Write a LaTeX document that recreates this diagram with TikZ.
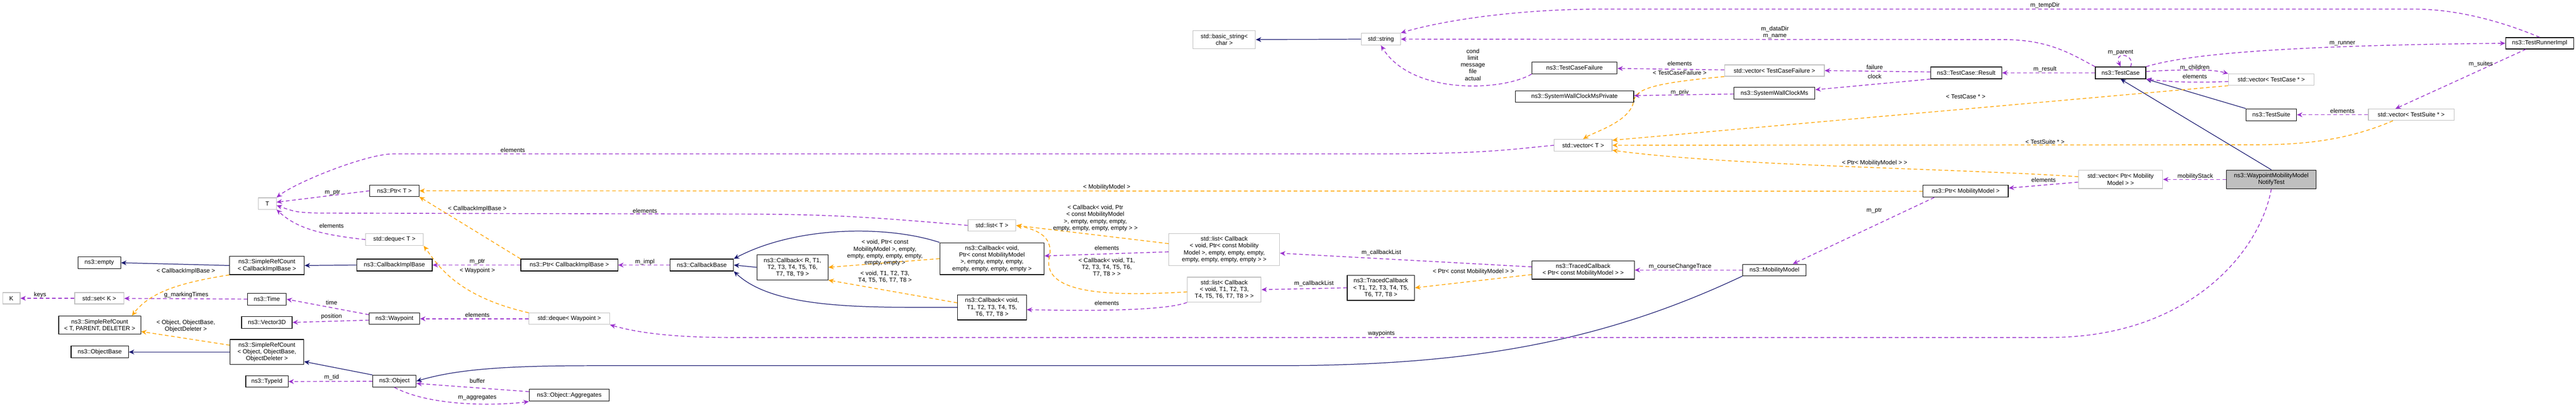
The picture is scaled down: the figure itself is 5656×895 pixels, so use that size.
\documentclass[tikz,border=0pt]{standalone}
\usepackage{fontspec}
\setmainfont{Liberation Sans}
\usetikzlibrary{arrows.meta,calc}

\definecolor{inhcol}{HTML}{191970}
\definecolor{usecol}{HTML}{9A32CD}
\definecolor{tplcol}{HTML}{FFA500}
\definecolor{extcol}{HTML}{BFBFBF}

\tikzset{
  cls/.style={draw=black, line width=0.35pt, fill=white, inner sep=0.5pt, align=center, font=\fontsize{3.3}{3.75}\selectfont},
  ext/.style={cls, draw=extcol},
  mainbox/.style={cls, fill=extcol},
  sz/.style 2 args={minimum width=#1*0.25pt, minimum height=#2*0.25pt},
  lbl/.style={inner sep=0pt, align=center, font=\fontsize{3.3}{3.75}\selectfont},
  inh/.style={draw=inhcol, line width=0.35pt, -{Stealth[length=3pt,width=2.6pt]}},
  usedep/.style={draw=usecol, line width=0.4pt, dash pattern=on 2pt off 1.4pt, -{Stealth[length=3pt,width=2.6pt]}},
  tpldep/.style={draw=tplcol, line width=0.4pt, dash pattern=on 2pt off 1.4pt, -{Stealth[length=3pt,width=2.6pt]}},
}

\begin{document}
\begin{tikzpicture}[x=0.25pt,y=0.25pt,yscale=-1]
\useasboundingbox (0,0) rectangle (5656,895);

% left part
\node[ext, sz={39}{25}] (T) at (587,447) {T};
\node[cls, sz={94}{26}] (empty) at (218,577) {ns3::empty};
\node[cls, sz={164}{40}] (srcCib) at (586,583) {ns3::SimpleRefCount\\< CallbackImplBase >};
\node[ext, sz={38}{25}] (K) at (25,655) {K};
\node[ext, sz={108}{25}] (setK) at (218,655) {std::set< K >};
\node[cls, sz={85}{26}] (time) at (586,657) {ns3::Time};
\node[cls, sz={180}{40}] (srcTpd) at (219,714) {ns3::SimpleRefCount\\< T, PARENT, DELETER >};
\node[cls, sz={111}{26}] (vec3d) at (586,708) {ns3::Vector3D};
\node[cls, sz={126}{26}] (objBase) at (219,773) {ns3::ObjectBase};
\node[cls, sz={162}{55}] (srcObj) at (586,773) {ns3::SimpleRefCount\\< Object, ObjectBase,\\ObjectDeleter >};
\node[cls, sz={93}{25}] (typeId) at (586,838) {ns3::TypeId};
\node[cls, sz={108}{25}] (ptrT) at (866,419) {ns3::Ptr< T >};
\node[ext, sz={127}{26}] (dequeT) at (866,526) {std::deque< T >};
\node[cls, sz={166}{26}] (cib) at (866,582) {ns3::CallbackImplBase};
\node[cls, sz={213}{26}] (ptrCib) at (1250,582) {ns3::Ptr< CallbackImplBase >};
\node[cls, sz={139}{26}] (cbBase) at (1541,582) {ns3::CallbackBase};
\node[cls, sz={111}{25}] (waypoint) at (866,700) {ns3::Waypoint};
\node[ext, sz={177}{25}] (dequeWp) at (1250,700) {std::deque< Waypoint >};
\node[cls, sz={95}{26}] (object) at (866,837) {ns3::Object};
\node[cls, sz={176}{26}] (aggr) at (1250,868) {ns3::Object::Aggregates};

% callbacks
\node[cls, sz={156}{55}] (cbR) at (1740,587) {ns3::Callback< R, T1,\\T2, T3, T4, T5, T6,\\T7, T8, T9 >};
\node[cls, sz={229}{70}] (cbPtr) at (2178,568) {ns3::Callback< void,\\Ptr< const MobilityModel\\>, empty, empty, empty,\\empty, empty, empty, empty >};
\node[cls, sz={151}{55}] (cbT) at (2178,675) {ns3::Callback< void,\\T1, T2, T3, T4, T5,\\T6, T7, T8 >};
\node[ext, sz={105}{25}] (listT) at (2178,495) {std::list< T >};
\node[ext, sz={243}{70}] (listCbPtr) at (2688,548) {std::list< Callback\\< void, Ptr< const Mobility\\Model >, empty, empty, empty,\\empty, empty, empty, empty > >};
\node[ext, sz={162}{55}] (listCbT) at (2688,636) {std::list< Callback\\< void, T1, T2, T3,\\T4, T5, T6, T7, T8 > >};
\node[cls, sz={148}{55}] (tcT) at (3032,632) {ns3::TracedCallback\\< T1, T2, T3, T4, T5,\\T6, T7, T8 >};
\node[cls, sz={225}{40}] (tcPtr) at (3476,593) {ns3::TracedCallback\\< Ptr< const MobilityModel > >};
\node[cls, sz={139}{25}] (mobModel) at (3896,593) {ns3::MobilityModel};
\node[cls, sz={187}{26}] (ptrMm) at (4316,420) {ns3::Ptr< MobilityModel >};

% test framework
\node[ext, sz={137}{40}] (basicStr) at (2688,87) {std::basic\_string<\\char >};
\node[ext, sz={86}{26}] (str) at (3032,86) {std::string};
\node[cls, sz={187}{26}] (tcFail) at (3457,149) {ns3::TestCaseFailure};
\node[ext, sz={219}{25}] (vecTcf) at (3896,155) {std::vector< TestCaseFailure >};
\node[cls, sz={156}{26}] (result) at (4317,160) {ns3::TestCase::Result};
\node[cls, sz={260}{25}] (swcmPriv) at (3457,212) {ns3::SystemWallClockMsPrivate};
\node[cls, sz={178}{26}] (swcm) at (3896,205) {ns3::SystemWallClockMs};
\node[ext, sz={127}{26}] (vecT) at (3476,319) {std::vector< T >};
\node[cls, sz={111}{26}] (testCase) at (4656,160) {ns3::TestCase};
\node[ext, sz={188}{25}] (vecTc) at (4987,175) {std::vector< TestCase * >};
\node[cls, sz={111}{26}] (testSuite) at (4987,252) {ns3::TestSuite};
\node[ext, sz={188}{25}] (vecTs) at (5294,252) {std::vector< TestSuite * >};
\node[ext, sz={185}{40}] (vecPtrMm) at (4656,394) {std::vector< Ptr< Mobility\\Model > >};
\node[mainbox, sz={197}{41}] (notify) at (4987,394) {ns3::WaypointMobilityModel\\NotifyTest};
\node[cls, sz={149}{25}] (runner) at (5576,95) {ns3::TestRunnerImpl};

% inheritance
\draw[inh] (srcCib.west) -- (empty.east);
\draw[inh] (cib.west) -- (srcCib.east);
\draw[inh] (srcObj.west) -- (objBase.east);
\draw[inh] (object.north west) -- (srcObj.east |- 0,794);
\draw[inh] (cbR.west) -- (cbBase.east);
\draw[inh] (cbPtr.north west) .. controls (1950,495) and (1750,495) .. (cbBase.north east);
\draw[inh] (cbT.west) .. controls (1900,675) and (1700,680) .. (cbBase.south east);
\draw[inh] (str.west) -- (basicStr.east);
\draw[inh] (mobModel.south west) .. controls (3500,760) and (3200,803) .. (2800,803) -- (1300,803) .. controls (1100,803) and (1000,812) .. (object.east);
\draw[inh] (testSuite.north west) -- (testCase.south east);
\draw[inh] (notify.north) -- (testCase.south);

% usage
\draw[usedep] (setK) -- (K); \node[lbl] (l1) at (88,648) {keys};
\draw[usedep] (time) -- (setK); \node[lbl] (l2) at (409,648) {g\_markingTimes};
\draw[usedep] (waypoint.west |- 0,691) -- (time.east); \node[lbl] (l3) at (728,664) {time};
\draw[usedep] (waypoint.west |- 0,703) -- (vec3d.east); \node[lbl] (l4) at (728,695) {position};
\draw[usedep] (object) -- (typeId); \node[lbl] (l5) at (728,828) {m\_tid};
\draw[usedep] (aggr.west |- 0,860) -- (object.east |- 0,842); \node[lbl] (l6) at (1048,836) {buffer};
\draw[usedep] (object.south) .. controls (950,895) and (1100,890) .. (aggr.south west); \node[lbl] (l7) at (1048,873) {m\_aggregates};
\draw[usedep] (dequeWp) -- (waypoint); \node[lbl] (l8) at (1048,692) {elements};
\draw[usedep] (ptrCib) -- (cib); \node[lbl] (l9) at (1048,575) {m\_ptr};
\draw[usedep] (cbBase) -- (ptrCib); \node[lbl] (l10) at (1416,575) {m\_impl};
\draw[usedep] (ptrT.west) -- (T.east |- 0,444); \node[lbl] (l11) at (730,423) {m\_ptr};
\draw[usedep] (dequeT.west) .. controls (700,515) and (650,500) .. (T.south east); \node[lbl] (l12) at (728,496) {elements};
\draw[usedep] (listT.west) .. controls (1900,475) and (1800,470) .. (1600,470) -- (700,468) .. controls (650,466) .. (T.east |- 0,451); \node[lbl] (l13) at (1416,463) {elements};
\draw[usedep] (vecT.west) .. controls (3300,330) and (3250,338) .. (3000,338) -- (860,338) .. controls (800,340) and (650,400) .. (T.north east); \node[lbl] (l14) at (1126,330) {elements};
\draw[usedep] (listCbPtr.west |- 0,553) -- (cbPtr.east |- 0,562); \node[lbl] (l15) at (2430,545) {elements};
\draw[usedep] (listCbT.south west) .. controls (2550,685) and (2350,682) .. (cbT.east |- 0,680); \node[lbl] (l16) at (2430,665) {elements};
\draw[usedep] (tcT.west) -- (listCbT.east); \node[lbl] (l17) at (2885,623) {m\_callbackList};
\draw[usedep] (tcPtr.west |- 0,586) -- (listCbPtr.east |- 0,556); \node[lbl] (l18) at (3033,555) {m\_callbackList};
\draw[usedep] (mobModel) -- (tcPtr); \node[lbl] (l19) at (3689,585) {m\_courseChangeTrace};
\draw[usedep] ($(ptrMm.south west)+(25,0)$) -- ($(mobModel.north east)+(-30,0)$); \node[lbl] (l20) at (4115,463) {m\_ptr};
\draw[usedep] (vecPtrMm.west |- 0,400) -- (ptrMm.east |- 0,413); \node[lbl] (l21) at (4487,395) {elements};
\draw[usedep] (notify) -- (vecPtrMm); \node[lbl] (l22) at (4820,387) {mobilityStack};
\draw[usedep] (notify.south) .. controls (4960,560) and (4800,741) .. (4500,741) -- (1600,741) .. controls (1450,741) and (1380,725) .. (dequeWp.south east); \node[lbl] (l23) at (3033,733) {waypoints};
\draw[usedep] (testCase) -- (result); \node[lbl] (l24) at (4490,152) {m\_result};
\draw[usedep] ($(testCase.north)+(22,0)$) .. controls (4690,120) and (4640,110) .. (testCase.north); \node[lbl] (l25) at (4656,115) {m\_parent};
\draw[usedep] (testCase.east |- 0,157) .. controls (4800,152) and (4860,152) .. (vecTc.north west); \node[lbl] (l26) at (4819,149) {m\_children};
\draw[usedep] (vecTc.west |- 0,179) .. controls (4820,182) and (4760,180) .. (testCase.south east); \node[lbl] (l27) at (4819,168) {elements};
\draw[usedep] (testCase.north east) .. controls (4800,120) and (5000,100) .. (runner.west); \node[lbl] (l28) at (5143,96) {m\_runner};
\draw[usedep] (testCase.north west) .. controls (4550,120) and (4500,87) .. (4400,87) -- (str.east); \node[lbl] (l29) at (3897,71) {m\_dataDir\\m\_name};
\draw[usedep] (runner.north) .. controls (5500,50) and (5400,20) .. (5300,20) -- (3500,20) .. controls (3300,22) and (3150,50) .. (str.north east); \node[lbl] (l30) at (4490,12) {m\_tempDir};
\draw[usedep] ($(runner.south)+(-30,0)$) -- ($(vecTs.north west)+(60,0)$); \node[lbl] (l31) at (5447,141) {m\_suites};
\draw[usedep] (vecTs) -- (testSuite); \node[lbl] (l32) at (5143,244) {elements};
\draw[usedep] (result.west |- 0,158) -- (vecTcf.east); \node[lbl] (l33) at (4116,147) {failure};
\draw[usedep] (result.south west) -- (swcm.east |- 0,197); \node[lbl] (l34) at (4116,168) {clock};
\draw[usedep] (vecTcf) -- (tcFail); \node[lbl] (l35) at (3688,140) {elements};
\draw[usedep] (swcm) -- (swcmPriv); \node[lbl] (l36) at (3688,203) {m\_priv};
\draw[usedep] (tcFail.south west) .. controls (3300,200) and (3100,210) .. (str.south); \node[lbl] (l37) at (3234,142) {cond\\limit\\message\\file\\actual};

% templates
\draw[tpldep] (srcCib.south west) .. controls (400,620) and (330,640) .. ($(srcTpd.north east)+(-20,0)$); \node[lbl] (l38) at (408,596) {< CallbackImplBase >};
\draw[tpldep] (srcObj.west |- 0,758) -- (srcTpd.east |- 0,728); \node[lbl] (l39) at (408,716) {< Object, ObjectBase,\\ObjectDeleter >};
\draw[tpldep] (ptrCib.north west) -- (ptrT.south east); \node[lbl] (l40) at (1048,459) {< CallbackImplBase >};
\draw[tpldep] (dequeWp.north west) .. controls (1000,650) and (960,580) .. (dequeT.south east); \node[lbl] (l41) at (1048,595) {< Waypoint >};
\draw[tpldep] (cbPtr.west) -- (cbR.east); \node[lbl] (l42) at (1943,555) {< void, Ptr< const\\MobilityModel >, empty,\\empty, empty, empty, empty,\\empty, empty >};
\draw[tpldep] (cbT.west |- 0,665) -- (cbR.south east); \node[lbl] (l43) at (1943,608) {< void, T1, T2, T3,\\T4, T5, T6, T7, T8 >};
\draw[tpldep] (listCbPtr.west |- 0,535) -- (listT.east); \node[lbl] (l44) at (2405,479) {< Callback< void, Ptr\\< const MobilityModel\\>, empty, empty, empty,\\empty, empty, empty, empty > >};
\draw[tpldep] (listCbT.west |- 0,641) .. controls (2450,650) and (2280,650) .. (2305,560) .. controls (2310,520) and (2280,505) .. (listT.east); \node[lbl] (l45) at (2430,587) {< Callback< void, T1,\\T2, T3, T4, T5, T6,\\T7, T8 > >};
\draw[tpldep] (tcPtr.west |- 0,603) -- (tcT.east); \node[lbl] (l46) at (3235,597) {< Ptr< const MobilityModel > >};
\draw[tpldep] (ptrMm) -- (ptrT); \node[lbl] (l47) at (2430,411) {< MobilityModel >};
\draw[tpldep] (vecTcf.south west) .. controls (3600,185) and (3590,200) .. (3585,230) .. controls (3570,270) and (3500,290) .. (vecT.north); \node[lbl] (l48) at (3688,160) {< TestCaseFailure >};
\draw[tpldep] (vecTc.south west) -- (vecT.east |- 0,308); \node[lbl] (l49) at (4316,212) {< TestCase * >};
\draw[tpldep] ($(vecTs.south)+(-40,0)$) .. controls (5150,310) and (5050,318) .. (4950,318) -- (vecT.east); \node[lbl] (l50) at (4490,311) {< TestSuite * >};
\draw[tpldep] (vecPtrMm.west |- 0,388) .. controls (4300,370) and (3800,365) .. (vecT.east |- 0,330); \node[lbl] (l51) at (4116,358) {< Ptr< MobilityModel > >};
\end{tikzpicture}
\end{document}
